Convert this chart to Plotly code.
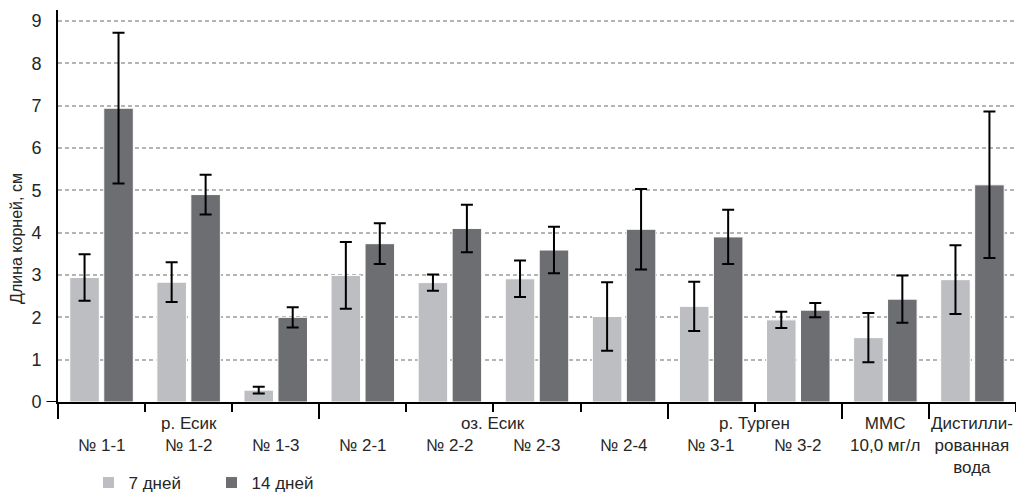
import plotly.graph_objects as go

# ---- data ----
categories = ["№ 1-1", "№ 1-2", "№ 1-3", "№ 2-1", "№ 2-2", "№ 2-3", "№ 2-4",
              "№ 3-1", "№ 3-2", "ММС 10,0 мг/л", "Дистиллированная вода"]
tick_labels = ["№ 1-1", "№ 1-2", "№ 1-3", "№ 2-1", "№ 2-2", "№ 2-3", "№ 2-4",
               "№ 3-1", "№ 3-2", "ММС<br>10,0 мг/л", "Дистилли-<br>рованная<br>вода"]
days7 = [2.94, 2.83, 0.28, 2.99, 2.82, 2.91, 2.02, 2.26, 1.94, 1.52, 2.89]
err7 = [0.55, 0.47, 0.08, 0.79, 0.19, 0.43, 0.81, 0.58, 0.19, 0.58, 0.81]
days14 = [6.94, 4.90, 2.00, 3.74, 4.10, 3.59, 4.08, 3.90, 2.17, 2.43, 5.13]
err14 = [1.78, 0.47, 0.24, 0.48, 0.56, 0.55, 0.95, 0.64, 0.17, 0.56, 1.73]
group_names = ["р. Есик", "оз. Есик", "р. Турген"]
group_spans = [(0, 2), (3, 6), (7, 8)]
series_names = ["7 дней", "14 дней"]
y_ticks = [0, 1, 2, 3, 4, 5, 6, 7, 8, 9]
y_title = "Длина корней, см"

FONT = "Liberation Sans Narrow, Liberation Sans, Arial, sans-serif"
FONT_REG = "Liberation Sans, Arial, sans-serif"
FS = 17
TXT = "#262626"
LIGHT = "#bdbec1"
DARK = "#6d6e72"

W, H = 1016, 485  # page body adds an 8px offset

xpos = list(range(len(categories)))

fig = go.Figure()
for name, vals, errs, col in [(series_names[0], days7, err7, LIGHT),
                              (series_names[1], days14, err14, DARK)]:
    fig.add_trace(go.Bar(
        x=xpos, y=vals, name=name,
        marker=dict(color=col, line=dict(color="white", width=1)),
        error_y=dict(type="data", array=errs, visible=True,
                     color="black", thickness=2, width=6),
        hovertext=categories,
    ))

# boundaries between categories; long ticks at group edges
n = len(categories)
long_ticks = {-0.5, n - 0.5 - 1, n - 0.5 - 2}
for a, b in group_spans:
    long_ticks.add(a - 0.5)
    long_ticks.add(b + 0.5)
all_bounds = [i - 0.5 for i in range(n + 1)]
short_ticks = [v for v in all_bounds if v not in long_ticks]
long_ticks = sorted(long_ticks)

annotations = []
# category labels
for i, lab in enumerate(tick_labels):
    multi = "<br>" in lab
    annotations.append(dict(
        x=i, xref="x", y=0, yref="paper",
        text=lab, showarrow=False,
        yanchor="top" if multi else "middle",
        yshift=-10 if multi else -43,
        font=dict(family=FONT, size=FS, color=TXT),
    ))
# group labels
for name, (a, b) in zip(group_names, group_spans):
    annotations.append(dict(
        x=(a + b) / 2, xref="x", y=0, yref="paper",
        text=name, showarrow=False, yanchor="middle", yshift=-21,
        font=dict(family=FONT, size=FS, color=TXT),
    ))
# y-axis title
annotations.append(dict(
    x=0, xref="paper", xshift=-41, xanchor="center",
    y=0.416, yref="paper", yanchor="middle",
    text=y_title, textangle=-90, showarrow=False,
    font=dict(family=FONT_REG, size=16, color=TXT),
))

fig.update_layout(
    width=W, height=H,
    margin=dict(l=50, r=8, t=2, b=91, autoexpand=False),
    plot_bgcolor="white", paper_bgcolor="white",
    barmode="group", bargap=0.22, bargroupgap=0.13,
    font=dict(family=FONT, size=FS, color=TXT),
    showlegend=True,
    legend=dict(orientation="h", xref="container", yref="container",
                x=80.5 / W, y=1 - 475 / H, xanchor="left", yanchor="middle",
                font=dict(family=FONT, size=FS, color=TXT),
                entrywidth=78, entrywidthmode="pixels",
                bgcolor="rgba(0,0,0,0)"),
    annotations=annotations,
    shapes=[dict(type="line", xref="paper", yref="y",
                 x0=-0.012, x1=0, y0=0, y1=0,
                 line=dict(color="black", width=2))],
    xaxis=dict(range=[-0.5, n - 0.5], showgrid=False, zeroline=False,
               automargin=False,
               showline=True, linecolor="black", linewidth=2,
               tickmode="array", tickvals=long_ticks, ticks="outside",
               ticklen=15, tickwidth=2, tickcolor="black",
               showticklabels=False,
               minor=dict(tickmode="array", tickvals=short_ticks,
                          ticks="outside", ticklen=8, tickwidth=2,
                          tickcolor="black", showgrid=False)),
    yaxis=dict(range=[0, 9.26], tickmode="array", tickvals=y_ticks,
               automargin=False,
               showgrid=True, gridcolor="#b4b4b4", gridwidth=1.5,
               griddash="4px,3px", zeroline=False,
               showline=True, linecolor="black", linewidth=2,
               ticks="", ticklabelstandoff=11,
               tickfont=dict(family=FONT, size=18, color=TXT)),
)

fig.write_html("out.html")
